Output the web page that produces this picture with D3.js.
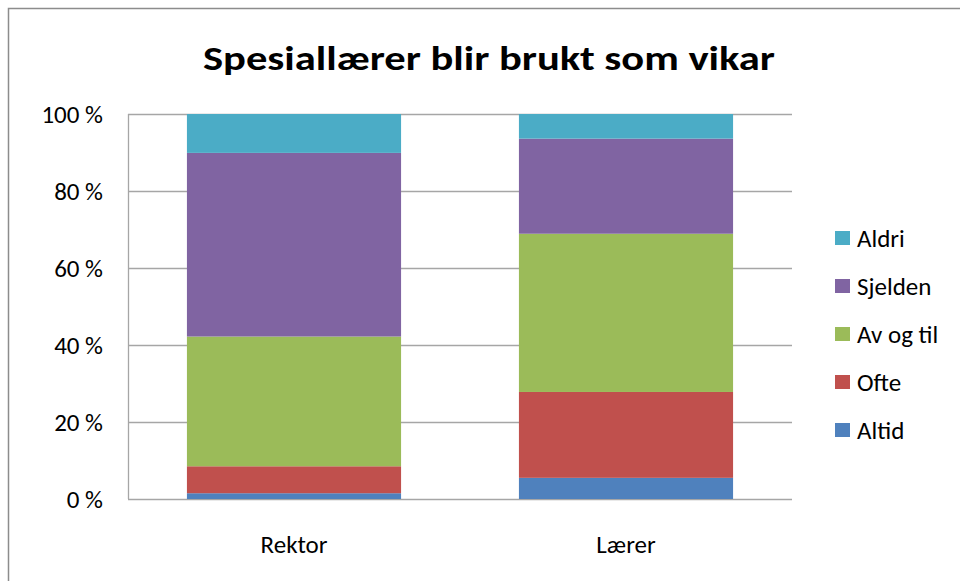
<!DOCTYPE html>
<html>
<head>
<meta charset="utf-8">
<script src="https://cdn.jsdelivr.net/npm/d3@7"></script>
<style>
  body { margin: 0; background: #fff; }
  svg { display: block; font-family: Carlito, "Open Sans", "Liberation Sans", sans-serif; }
</style>
</head>
<body>
<div id="chart"></div>
<script>
// categories and series (percent of answers)
var categories = ["Rektor", "Lærer"];
var series = ["Altid", "Ofte", "Av og til", "Sjelden", "Aldri"];
var altid    = [1.5, 5.5];
var ofte     = [7.0, 22.3];
var avOgTil  = [33.7, 41.1];
var sjelden  = [47.7, 24.7];
var aldri    = [10.1, 6.4];
var yTicks = [0, 20, 40, 60, 80, 100];
var colors = ["#4F81BD", "#C0504D", "#9BBB59", "#8064A2", "#4BACC6"];
var title = "Spesiallærer blir brukt som vikar";

var width = 960, height = 581;
var plot = {left: 128, right: 792, top: 114, bottom: 499};

// table for the stack layout
var rows = categories.map(function(c, i) {
  return {cat: c, "Altid": altid[i], "Ofte": ofte[i], "Av og til": avOgTil[i], "Sjelden": sjelden[i], "Aldri": aldri[i]};
});
var stacked = d3.stack().keys(series)(rows);

var svg = d3.select("#chart").append("svg")
  .attr("width", width)
  .attr("height", height);

// outer chart border (only left/top visible in the crop)
svg.append("rect")
  .attr("x", 8.5).attr("y", 8.5)
  .attr("width", width + 20).attr("height", height + 20)
  .attr("fill", "none")
  .attr("stroke", "#8c8c8c")
  .attr("stroke-width", 1.5);

var x = d3.scaleBand()
  .domain(categories)
  .range([plot.left, plot.right])
  .paddingInner(0.355)
  .paddingOuter(0.1775);

var y = d3.scaleLinear()
  .domain([0, 100])
  .range([plot.bottom, plot.top]);

// gridlines
svg.append("g")
  .selectAll("line")
  .data(yTicks)
  .join("line")
  .attr("x1", plot.left).attr("x2", plot.right)
  .attr("y1", function(d) { return Math.round(y(d)) + 0.5; })
  .attr("y2", function(d) { return Math.round(y(d)) + 0.5; })
  .attr("stroke", "#a6a6a6")
  .attr("stroke-width", 1.3);

// y axis line
svg.append("line")
  .attr("x1", plot.left + 0.5).attr("x2", plot.left + 0.5)
  .attr("y1", plot.top).attr("y2", plot.bottom)
  .attr("stroke", "#a6a6a6")
  .attr("stroke-width", 1.3);

// bars
svg.append("g")
  .selectAll("g")
  .data(stacked)
  .join("g")
  .attr("fill", function(d, i) { return colors[i]; })
  .selectAll("rect")
  .data(function(d) { return d; })
  .join("rect")
  .attr("x", function(d) { return x(d.data.cat); })
  .attr("width", x.bandwidth())
  .attr("y", function(d) { return y(d[1]); })
  .attr("height", function(d) { return y(d[0]) - y(d[1]); });

// y tick labels
svg.append("g")
  .selectAll("text")
  .data(yTicks)
  .join("text")
  .attr("x", 103)
  .attr("y", function(d) { return y(d); })
  .attr("dy", "0.35em")
  .attr("text-anchor", "end")
  .attr("font-size", 25)
  .attr("fill", "#000")
  .text(function(d) { return d + " %"; });

// category labels
svg.append("g")
  .selectAll("text")
  .data(categories)
  .join("text")
  .attr("x", function(d) { return x(d) + x.bandwidth() / 2; })
  .attr("y", 544)
  .attr("dy", "0.35em")
  .attr("text-anchor", "middle")
  .attr("font-size", 25)
  .attr("fill", "#000")
  .text(function(d) { return d; });

// title
svg.append("text")
  .attr("x", 489)
  .attr("y", 70)
  .attr("text-anchor", "middle")
  .attr("font-size", 35)
  .attr("font-weight", "bold")
  .attr("textLength", 572)
  .attr("lengthAdjust", "spacingAndGlyphs")
  .text(title);

// legend (top item = last series)
var legendItems = series.map(function(s, i) { return {name: s, color: colors[i]}; }).reverse();
var legend = svg.append("g")
  .selectAll("g")
  .data(legendItems)
  .join("g")
  .attr("transform", function(d, i) { return "translate(835," + (238 + i * 48) + ")"; });

legend.append("rect")
  .attr("x", 0).attr("y", -7)
  .attr("width", 15).attr("height", 14)
  .attr("fill", function(d) { return d.color; });

legend.append("text")
  .attr("x", 22)
  .attr("y", 0)
  .attr("dy", "0.35em")
  .attr("font-size", 25)
  .attr("fill", "#000")
  .text(function(d) { return d.name; });
</script>
</body>
</html>
